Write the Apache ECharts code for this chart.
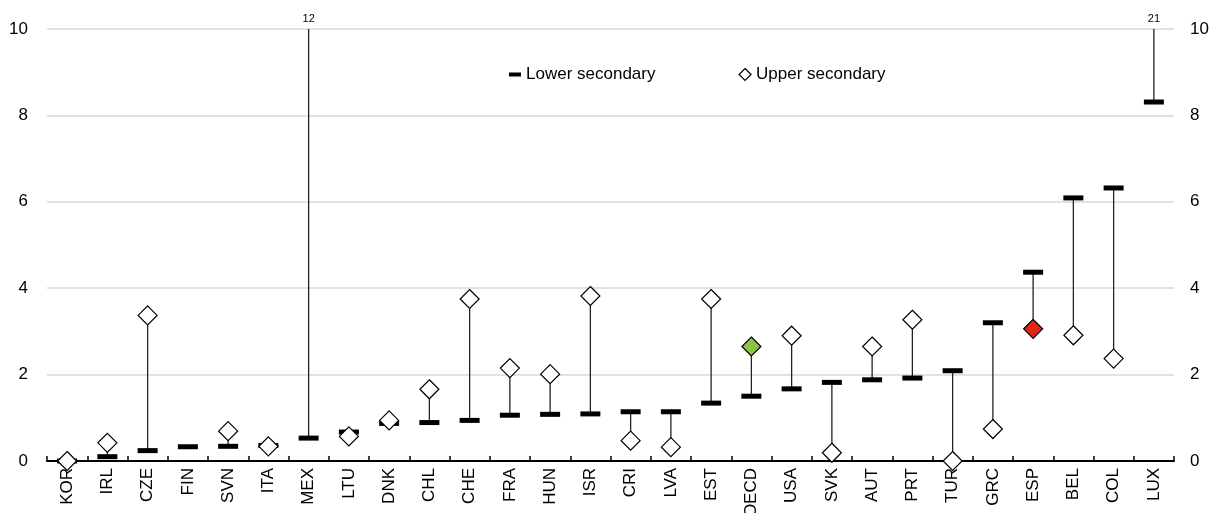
<!DOCTYPE html>
<html>
<head>
<meta charset="utf-8">
<script src="https://cdn.jsdelivr.net/npm/echarts@6/dist/echarts.min.js"></script>
<style>
  html, body { margin: 0; padding: 0; background: #fff; }
  #chart { width: 1213px; height: 513px; }
</style>
</head>
<body>
<div id="chart"></div>
<script>
const categories = ["KOR","IRL","CZE","FIN","SVN","ITA","MEX","LTU","DNK","CHL","CHE","FRA","HUN","ISR","CRI","LVA","EST","OECD","USA","SVK","AUT","PRT","TUR","GRC","ESP","BEL","COL","LUX"];
const lowerSecondary = [0, 0.10, 0.24, 0.33, 0.34, 0.36, 0.53, 0.67, 0.87, 0.89, 0.94, 1.06, 1.08, 1.09, 1.14, 1.14, 1.34, 1.50, 1.67, 1.82, 1.88, 1.92, 2.09, 3.20, 4.37, 6.09, 6.32, 8.31];
const upperSecondary = [0, 0.42, 3.37, null, 0.69, 0.34, 12, 0.57, 0.94, 1.66, 3.75, 2.15, 2.01, 3.82, 0.47, 0.32, 3.75, 2.65, 2.90, 0.19, 2.65, 3.27, 0, 0.74, 3.06, 2.91, 2.37, 21];
const yTicks = [0, 2, 4, 6, 8, 10];
const highlight = { OECD: '#8CC63F', ESP: '#E2231A' };

const FONT = "'Liberation Sans', Arial, sans-serif";
const Y_MIN = yTicks[0], Y_MAX = yTicks[yTicks.length - 1];

const chart = echarts.init(document.getElementById('chart'), null, { renderer: 'canvas' });

const lineData = categories.map((c, i) => [i, lowerSecondary[i], upperSecondary[i]]);
const upperData = categories.map((c, i) => {
  const v = upperSecondary[i];
  if (highlight[c]) return { value: [i, v], itemStyle: { color: highlight[c] } };
  return [i, v];
});
const lowerData = categories.map((c, i) => [i, lowerSecondary[i]]);

const yAxisCommon = {
  type: 'value', min: Y_MIN, max: Y_MAX, interval: 2,
  axisLine: { show: false }, axisTick: { show: false },
  splitLine: { show: true, lineStyle: { color: '#d9d9d9', width: 1.5 } },
  axisLabel: { fontFamily: FONT, fontSize: 17, color: '#000' }
};

chart.setOption({
  animation: false,
  backgroundColor: '#fff',
  grid: { left: 47, right: 39, top: 29, bottom: 52, containLabel: false, outerBoundsMode: 'none' },
  legend: {
    left: 504, top: 61,
    itemWidth: 12, itemHeight: 12, itemGap: 83,
    textStyle: { fontFamily: FONT, fontSize: 17, color: '#000' },
    data: [
      { name: 'Lower secondary', icon: 'path://M0,0 L12,0 L12,4 L0,4 Z', itemStyle: { color: '#000', borderWidth: 0 } },
      { name: 'Upper secondary', icon: 'diamond', itemStyle: { color: '#fff', borderColor: '#000', borderWidth: 1.2 } }
    ]
  },
  xAxis: {
    type: 'category', data: categories, boundaryGap: true,
    axisLine: { show: true, lineStyle: { color: '#000', width: 2 } },
    axisTick: { show: true, inside: true, length: 5, lineStyle: { color: '#000', width: 1.5 } },
    axisLabel: { rotate: 90, interval: 0, margin: 7, fontFamily: FONT, fontSize: 17, color: '#000' },
    splitLine: { show: false }
  },
  yAxis: [
    Object.assign({}, yAxisCommon, { position: 'left', axisLabel: Object.assign({}, yAxisCommon.axisLabel, { margin: 19 }) }),
    Object.assign({}, yAxisCommon, { position: 'right', splitLine: { show: false }, axisLabel: Object.assign({}, yAxisCommon.axisLabel, { margin: 16 }) })
  ],
  series: [
    {
      type: 'custom', name: 'range', silent: true, clip: false, z: 1,
      data: lineData,
      renderItem: function (params, api) {
        const i = api.value(0), lo = api.value(1), hi = api.value(2);
        if (hi === null || hi === undefined || isNaN(hi) || isNaN(lo)) return null;
        const top = Math.min(hi, Y_MAX);
        const p1 = api.coord([i, lo]);
        const p2 = api.coord([i, top]);
        const children = [{
          type: 'line',
          shape: { x1: p1[0], y1: p1[1], x2: p2[0], y2: p2[1] },
          style: { stroke: '#222', lineWidth: 1.3 }
        }];
        if (hi > Y_MAX) {
          children.push({
            type: 'text',
            style: { text: String(hi), x: p2[0], y: p2[1] - 5, align: 'center', verticalAlign: 'bottom',
                     fontFamily: FONT, fontSize: 11, fill: '#000' }
          });
        }
        return { type: 'group', children: children };
      }
    },
    {
      type: 'scatter', name: 'Lower secondary', z: 2,
      symbol: 'rect', symbolSize: [20, 5],
      itemStyle: { color: '#000', opacity: 1 },
      data: lowerData
    },
    {
      type: 'scatter', name: 'Upper secondary', z: 3,
      symbol: 'diamond', symbolSize: 19,
      itemStyle: { color: '#fff', borderColor: '#000', borderWidth: 1.2, opacity: 1 },
      data: upperData
    }
  ]
});
</script>
</body>
</html>
